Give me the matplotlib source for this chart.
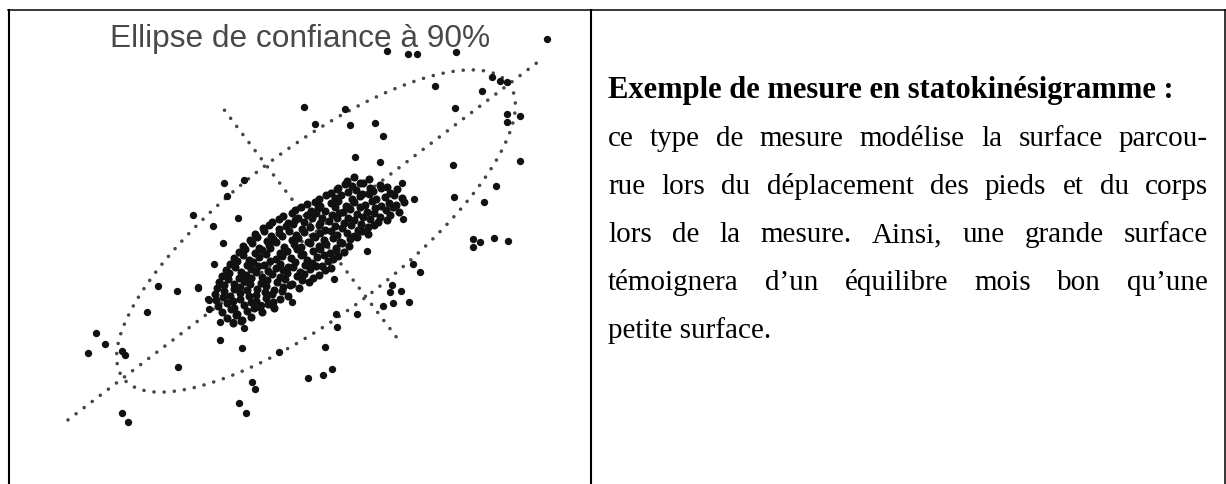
import numpy as np
import matplotlib
matplotlib.use("Agg")
import matplotlib.pyplot as plt

# --- page size (pixels, 1 unit = 1 px) ---
W, H = 1226, 485

# --- scatter: scattered points around the cloud ---
outer_x = [547, 387, 408, 417, 456, 435, 482, 492, 500, 507, 455, 507, 507, 520,
           304, 345, 315, 350, 375, 383, 520, 453, 355, 380, 496, 454, 484, 402,
           414, 403, 224, 244, 227, 193, 213, 238,
           96, 105, 88, 122, 125, 147, 158, 177, 198, 178, 122, 128, 214, 223,
           209, 209, 220, 220, 233, 244, 242, 252, 255, 239, 246, 261, 273, 292,
           308, 323, 332, 325, 336, 337, 357, 334, 367, 279, 383, 393, 390, 392,
           401, 409, 413, 420, 473, 480, 473, 494, 508, 198, 208]
outer_y = [40, 52, 55, 55, 53, 87, 92, 78, 82, 83, 109, 115, 123, 117,
           108, 110, 125, 126, 124, 137, 162, 166, 158, 163, 187, 198, 203, 184,
           200, 220, 184, 181, 197, 216, 227, 219,
           334, 345, 354, 352, 356, 313, 287, 292, 289, 368, 414, 423, 265, 244,
           301, 310, 323, 341, 323, 329, 349, 383, 390, 404, 414, 306, 307, 303,
           379, 376, 370, 348, 315, 328, 315, 280, 252, 353, 307, 304, 293, 286,
           292, 303, 265, 273, 240, 243, 248, 239, 242, 288, 300]

# --- scatter: dense central cloud (x, y) ---
cloud_points = [
    (347, 182), (354, 178), (360, 184), (369, 180),
    (338, 189), (345, 185), (352, 187), (363, 184), (370, 189), (380, 186), (387, 188),
    (331, 194), (337, 190), (348, 193), (356, 191), (362, 195), (373, 192), (381, 189),
    (390, 194), (397, 190),
    (319, 200), (326, 196), (335, 199), (341, 196), (352, 200), (360, 197), (369, 195),
    (376, 200), (385, 198), (394, 196), (402, 199),
    (307, 205), (315, 203), (320, 207), (331, 204), (338, 202), (346, 207), (354, 203),
    (365, 206), (372, 202), (381, 207), (389, 204), (396, 206), (404, 203),
    (295, 211), (301, 208), (311, 212), (318, 209), (325, 212), (335, 208), (343, 213),
    (350, 210), (360, 208), (367, 213), (375, 209), (386, 211), (393, 208), (399, 213),
    (283, 217), (292, 214), (298, 219), (307, 216), (316, 214), (322, 219), (332, 216),
    (339, 214), (348, 219), (357, 215), (363, 218), (374, 214), (380, 218), (390, 216),
    (272, 223), (279, 220), (288, 224), (295, 221), (304, 223), (312, 219), (320, 224),
    (329, 222), (337, 219), (344, 224), (354, 221), (361, 225), (370, 220), (378, 223),
    (387, 221),
    (263, 229), (269, 226), (279, 230), (286, 227), (293, 225), (302, 230), (310, 228),
    (319, 226), (325, 231), (335, 227), (342, 229), (351, 226), (358, 231), (368, 228),
    (374, 226),
    (255, 235), (264, 232), (271, 237), (279, 234), (289, 232), (296, 236), (304, 233),
    (313, 237), (320, 234), (331, 232), (337, 236), (347, 234), (354, 237), (362, 232),
    (368, 235),
    (250, 241), (257, 238), (267, 242), (273, 240), (282, 237), (292, 241), (298, 239),
    (308, 243), (315, 238), (324, 241), (333, 239), (340, 243), (350, 240), (357, 238),
    (243, 247), (252, 244), (259, 249), (269, 246), (276, 243), (284, 248), (294, 245),
    (301, 248), (310, 244), (319, 247), (326, 245), (336, 249), (342, 244), (349, 247),
    (239, 253), (245, 250), (255, 254), (262, 251), (270, 249), (280, 254), (287, 252),
    (297, 250), (303, 255), (313, 252), (320, 250), (330, 254), (336, 251), (344, 253),
    (234, 259), (243, 256), (249, 261), (259, 258), (266, 255), (276, 260), (282, 257),
    (291, 259), (301, 256), (307, 261), (317, 258), (324, 256), (333, 260), (338, 257),
    (230, 265), (237, 262), (247, 266), (253, 263), (264, 266), (270, 262), (280, 265),
    (288, 268), (295, 263), (305, 266), (312, 264), (322, 267), (328, 262),
    (226, 271), (235, 268), (241, 273), (251, 270), (258, 267), (268, 272), (276, 269),
    (283, 271), (293, 268), (300, 273), (310, 270), (316, 267), (325, 271), (331, 269),
    (222, 277), (229, 274), (239, 279), (246, 276), (256, 273), (262, 278), (272, 275),
    (280, 278), (287, 274), (297, 277), (304, 275), (313, 279), (319, 276),
    (219, 283), (228, 280), (234, 285), (244, 282), (251, 279), (261, 284), (267, 281),
    (277, 283), (285, 280), (292, 285), (302, 281), (309, 283),
    (217, 289), (224, 286), (234, 290), (240, 288), (250, 285), (257, 290), (266, 287),
    (274, 291), (283, 288), (290, 286), (299, 289),
    (215, 295), (224, 292), (230, 297), (240, 294), (247, 291), (256, 296), (265, 293),
    (272, 295), (282, 292), (288, 297),
    (216, 301), (223, 298), (233, 302), (240, 300), (249, 297), (256, 302), (266, 299),
    (273, 303), (280, 300),
    (218, 307), (227, 304), (234, 309), (244, 306), (251, 303), (260, 308), (268, 305),
    (274, 309),
    (222, 313), (231, 310), (237, 315), (247, 312), (254, 309), (262, 313),
    (227, 319), (236, 316), (242, 321), (251, 318),
    (233, 324), (241, 322),
]

# --- confidence ellipse (centre, semi-axis vectors) and axis extents ---
ell_center = (316, 232)
ell_major = (193, -147)
ell_minor = (50, 66)
major_span = (-1.285, 1.18)
minor_span = (-1.83, 1.68)

# --- text on the right ---
heading = "Exemple de mesure en statokinésigramme :"
body_lines = [
    "ce type de mesure modélise la surface parcou-",
    "rue lors du déplacement des pieds et du corps",
    "lors de la mesure. Ainsi, une grande surface",
    "témoignera d\u2019un équilibre mois bon qu\u2019une",
    "petite surface.",
]
plot_title = "Ellipse de confiance à 90%"

fig = plt.figure(figsize=(W / 100, H / 100), dpi=100)
ax = fig.add_axes([0, 0, 1, 1])
ax.set_xlim(0, W)
ax.set_ylim(H, 0)
ax.axis("off")

# table borders
ax.plot([8, W], [11, 11], color="black", lw=1.1, clip_on=False)
ax.plot([8.5, 8.5], [11, H], color="black", lw=1.5, clip_on=False)
ax.plot([590.5, 590.5], [11, H], color="black", lw=1.5, clip_on=False)
ax.plot([1225, 1225], [11, H], color="black", lw=1.1, clip_on=False)

# dotted ellipse and axes
dot_style = dict(color="#474747", lw=2.6, linestyle=(0, (0.01, 2.8)),
                 dash_capstyle="round", solid_capstyle="round")
cx, cy = ell_center
t = np.linspace(0, 2 * np.pi, 400)
ax.plot(cx + ell_major[0] * np.cos(t) + ell_minor[0] * np.sin(t),
        cy + ell_major[1] * np.cos(t) + ell_minor[1] * np.sin(t), **dot_style)
ax.plot([cx + ell_major[0] * major_span[0], cx + ell_major[0] * major_span[1]],
        [cy + ell_major[1] * major_span[0], cy + ell_major[1] * major_span[1]], **dot_style)
ax.plot([cx + ell_minor[0] * minor_span[0], cx + ell_minor[0] * minor_span[1]],
        [cy + ell_minor[1] * minor_span[0], cy + ell_minor[1] * minor_span[1]], **dot_style)

# title of the scatter picture
ax.text(300, 47, plot_title, ha="center", va="baseline", fontsize=22.8,
        family="Liberation Sans", color="#484848")

# points
cloud = np.array(cloud_points)
ax.scatter(outer_x, outer_y, s=28, c="#111111", linewidths=0, zorder=3)
ax.scatter(cloud[:, 0], cloud[:, 1], s=34, c="#111111", linewidths=0, zorder=3)

# right-hand text, justified like the document
left, right = 608, 1208
baseline0, step = 98, 48
fs = 21
ax.text(left, baseline0, heading, fontsize=22, fontweight="bold",
        family="Liberation Serif", va="baseline", ha="left")

renderer = fig.canvas.get_renderer()
for i, line in enumerate(body_lines):
    y = baseline0 + step * (i + 1)
    if i == len(body_lines) - 1:
        ax.text(left, y, line, fontsize=fs, family="Liberation Serif",
                va="baseline", ha="left")
        continue
    words = line.split(" ")
    arts = [ax.text(0, y, w_, fontsize=fs, family="Liberation Serif",
                    va="baseline", ha="left") for w_ in words]
    widths = [a.get_window_extent(renderer).width for a in arts]
    gap = (right - left - sum(widths)) / (len(words) - 1)
    x = left
    for a, wd in zip(arts, widths):
        a.set_x(x)
        x += wd + gap

fig.savefig("out.png", dpi=100)
